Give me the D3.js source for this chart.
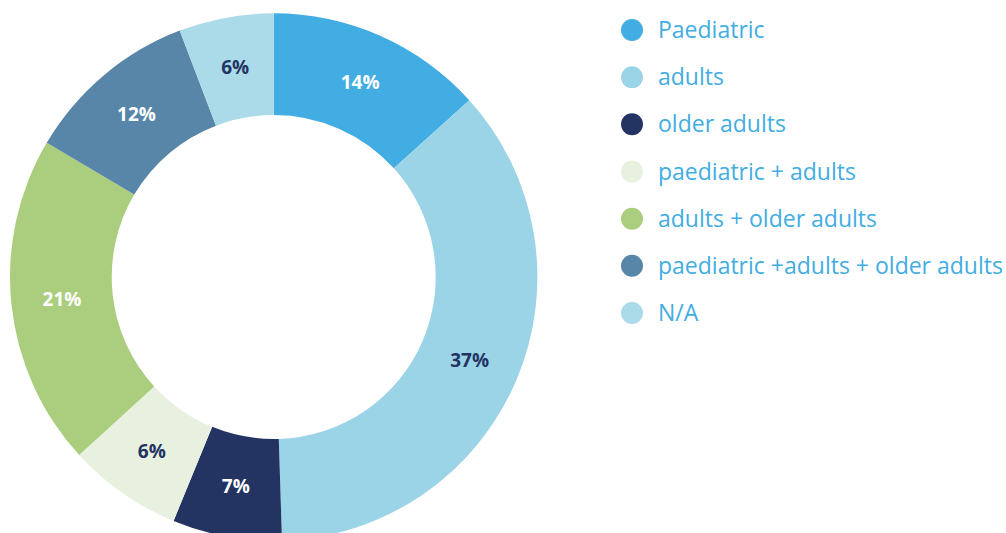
<!DOCTYPE html>
<meta charset="utf-8">
<style>
body { margin: 0; background: #fff; }
text { font-family: "Open Sans", Lato, sans-serif; }
</style>
<svg width="1006" height="533"></svg>
<script src="https://d3js.org/d3.v7.min.js"></script>
<script>

var categories = ["Paediatric", "adults", "older adults", "paediatric + adults",
                  "adults + older adults", "paediatric +adults + older adults", "N/A"];
// slice shares as measured from the slice angles
var values = [13.3, 36.2, 6.7, 7.0, 20.3, 10.7, 5.8];
// percentages as printed on the slices
var labels = ["14%", "37%", "7%", "6%", "21%", "12%", "6%"];
var colors = ["#42ade2", "#9bd4e7", "#233362", "#e8f1df", "#aace7e", "#5786a8", "#abdbe9"];
var labelColors = ["#fff", "#233362", "#fff", "#233362", "#fff", "#fff", "#233362"];

var svg = d3.select("svg"),
    cx = 273.7, cy = 277,
    outer = 263.7, inner = 162;

var pie = d3.pie().sort(null).value(function(d) { return d; });
var arc = d3.arc().innerRadius(inner).outerRadius(outer);

var g = svg.append("g").attr("transform", "translate(" + cx + "," + cy + ")");

var arcs = pie(values);

g.selectAll("path")
  .data(arcs)
  .enter().append("path")
    .attr("d", arc)
    .attr("fill", function(d, i) { return colors[i]; });

g.selectAll("text")
  .data(arcs)
  .enter().append("text")
    .attr("transform", function(d) { return "translate(" + arc.centroid(d) + ")"; })
    .attr("text-anchor", "middle")
    .attr("dy", "0.35em")
    .style("font-size", "19px")
    .style("font-weight", "bold")
    .attr("fill", function(d, i) { return labelColors[i]; })
    .text(function(d, i) { return labels[i]; });

// legend
var y = d3.scalePoint().domain(categories).range([30, 313]);

var legend = svg.append("g").selectAll("g")
  .data(categories)
  .enter().append("g")
    .attr("transform", function(d) { return "translate(632," + y(d) + ")"; });

legend.append("circle")
    .attr("r", 11)
    .attr("fill", function(d, i) { return colors[i]; });

legend.append("text")
    .attr("x", 26)
    .attr("dy", "0.35em")
    .style("font-size", "23px")
    .attr("fill", "#42ade2")
    .text(function(d) { return d; });

</script>
